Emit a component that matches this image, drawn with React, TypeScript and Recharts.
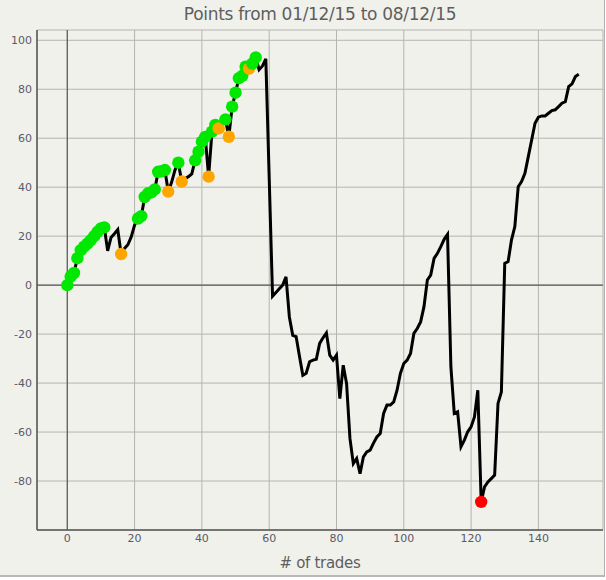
import React from "react";
import {
  LineChart,
  Line,
  XAxis,
  YAxis,
  CartesianGrid,
  ReferenceLine,
} from "recharts";

// cumulative points after each trade (index = trade number)
const points = [
  0, 3.5, 5, 11, 14.3, 15.7, 17, 18.4, 20, 21.8,
  23.2, 23.6, 14, 19.5, 21, 22.7, 12.7, 15, 16.5, 19.7,
  24.5, 27.2, 28.2, 36, 37.5, 37.9, 39.1, 46.3, 46.5, 47,
  38.2, 42, 47, 50, 42.3, 43.5, 44.3, 45.4, 51, 54.5,
  58.6, 60.5, 44.3, 62.7, 65.4, 64, 66, 67.7, 60.6, 72.9,
  78.6, 84.5, 85.5, 89.2, 88.4, 90.5, 93, 88, 89.5, 92.4,
  44, -4.5, -3, -1.5, 0, 3.4, -13, -20.5, -21, -29,
  -36.8, -36, -31.3, -30.6, -30.3, -23.8, -21.5, -19.5, -28.6, -30.6,
  -28.6, -46.3, -32.7, -40.2, -62.6, -72.9, -70.8, -77, -70.1, -68.1,
  -67.4, -64.5, -62, -60.6, -52.4, -49, -49, -47.7, -42.9, -36,
  -32, -30.6, -27.9, -19.7, -17.7, -15, -8.8, 2.1, 4.1, 10.9,
  13, 15.7, 18.7, 20.7, -33.4, -52.4, -51.7, -66, -63.3, -59.9,
  -57.9, -53.8, -42.9, -88.5, -82.4, -80.4, -79, -77.6, -48.3, -43.6,
  8.9, 9.6, 18.4, 23.9, 40.2, 42.3, 45.7, 52.5, 59.3, 66.1,
  68.6, 69.1, 69.1, 70.2, 71.3, 71.6, 72.9, 74.3, 74.9, 81.1,
  82.2, 85.2, 86.1,
];

const greenTrades = [
  0, 1, 2, 3, 4, 5, 6, 7, 8, 9, 10, 11,
  21, 22, 23, 24, 25, 26, 27, 28, 29,
  33, 38, 39, 40, 41, 43, 44, 47, 49, 50, 51, 52, 53, 55, 56,
];
const orangeTrades = [16, 30, 34, 42, 45, 48, 54];
const redTrades = [123];

const xTicks = [0, 20, 40, 60, 80, 100, 120, 140];
const yTicks = [-80, -60, -40, -20, 0, 20, 40, 60, 80, 100];

const data = points.map((p, i) => ({ trade: i, points: p }));

const dotColor = (i: number) => {
  if (redTrades.includes(i)) return "#ff0000";
  if (orangeTrades.includes(i)) return "#ffa500";
  if (greenTrades.includes(i)) return "#00e800";
  return null;
};

const TradeDot = (props: any) => {
  const { cx, cy, index } = props;
  const color = dotColor(index);
  if (!color) return <g key={`d-${index}`} />;
  return <circle key={`d-${index}`} cx={cx} cy={cy} r={6.2} fill={color} stroke="none" />;
};

const tickStyle = { fontSize: 11, fill: "#5a5a68", fontFamily: "DejaVu Sans" };

export default function App() {
  return (
    <div
      style={{
        position: "absolute",
        left: 0,
        top: 0,
        width: 606,
        height: 580,
        background: "#ffffff",
      }}
    >
      <div
        style={{
          position: "relative",
          width: 604,
          height: 575,
          background: "#f1f1ec",
          borderRight: "1px solid #b0b0b0",
          borderBottom: "2px solid #b8b8b8",
        }}
      >
        <div
          style={{
            position: "absolute",
            left: 37,
            width: 566,
            top: 4,
            textAlign: "center",
            fontFamily: "DejaVu Sans",
            fontSize: 17,
            letterSpacing: -0.3,
            color: "#5e5e5e",
          }}
        >
          Points from 01/12/15 to 08/12/15
        </div>
        <LineChart
          width={606}
          height={576}
          data={data}
          margin={{ top: 30, right: 3, bottom: 0, left: 0 }}
        >
          <CartesianGrid stroke="#b4b4b0" strokeWidth={1} />
          <XAxis
            dataKey="trade"
            type="number"
            domain={[-9, 159.2]}
            ticks={xTicks}
            allowDataOverflow
            height={46}
            tickLine={false}
            tickSize={2}
            tickMargin={2}
            axisLine={{ stroke: "#555555", strokeWidth: 1.5 }}
            tick={tickStyle}
            label={{
              value: "# of trades",
              position: "insideBottom",
              offset: 8,
              style: {
                fontSize: 15,
                fill: "#5e5e5e",
                fontFamily: "DejaVu Sans",
                letterSpacing: -0.3,
              },
            }}
          />
          <YAxis
            type="number"
            domain={[-100, 104.2]}
            ticks={yTicks}
            allowDataOverflow
            width={37}
            tickLine={false}
            tickSize={3}
            tickMargin={2}
            axisLine={{ stroke: "#555555", strokeWidth: 1.5 }}
            tick={tickStyle}
          />
          <ReferenceLine x={0} stroke="#5a5a5a" strokeWidth={1.2} />
          <ReferenceLine y={0} stroke="#5a5a5a" strokeWidth={1.2} />
          <Line
            type="linear"
            dataKey="points"
            stroke="#000000"
            strokeWidth={3}
            dot={TradeDot}
            activeDot={false}
            isAnimationActive={false}
          />
        </LineChart>
      </div>
    </div>
  );
}
